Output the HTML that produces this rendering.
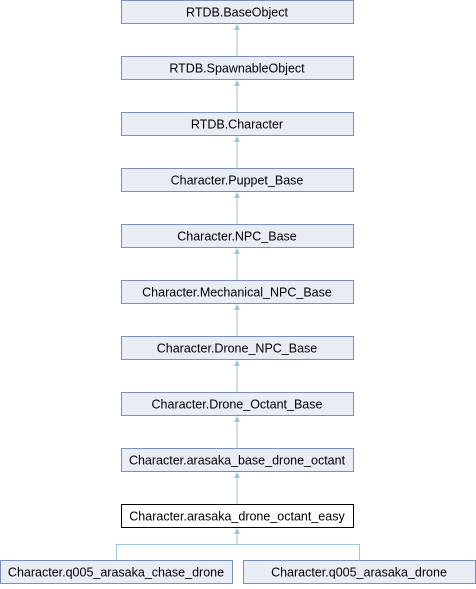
<!DOCTYPE html>
<html><head><meta charset="utf-8"><style>
body{margin:0;background:#fff;width:476px;height:584px;overflow:hidden}
svg text{font-family:"Liberation Sans",sans-serif;font-size:12.5px;fill:#000}
</style></head><body>
<svg width="476" height="584" xmlns="http://www.w3.org/2000/svg">
<g stroke="#9cc6e0" fill="none">
<line x1="237" y1="29" x2="237" y2="56"/>
<line x1="237" y1="85" x2="237" y2="112"/>
<line x1="237" y1="141" x2="237" y2="168"/>
<line x1="237" y1="197" x2="237" y2="224"/>
<line x1="237" y1="253" x2="237" y2="280"/>
<line x1="237" y1="309" x2="237" y2="336"/>
<line x1="237" y1="365" x2="237" y2="392"/>
<line x1="237" y1="421" x2="237" y2="448"/>
<line x1="237" y1="477" x2="237" y2="504"/>
<line x1="237" y1="533" x2="237" y2="544.5"/>
<polyline points="116.5,560 116.5,544.5 359.5,544.5 359.5,560"/>
</g>
<g fill="#9cc6e0">
<polygon points="237,24 234,30 240,30"/>
<polygon points="237,80 234,86 240,86"/>
<polygon points="237,136 234,142 240,142"/>
<polygon points="237,192 234,198 240,198"/>
<polygon points="237,248 234,254 240,254"/>
<polygon points="237,304 234,310 240,310"/>
<polygon points="237,360 234,366 240,366"/>
<polygon points="237,416 234,422 240,422"/>
<polygon points="237,472 234,478 240,478"/>
<polygon points="237,528 234,534 240,534"/>
</g>
<g fill="#e8ecf5" stroke="#7b8fbd">
<rect x="121.5" y="0.5" width="232" height="23"/>
<rect x="121.5" y="56.5" width="232" height="23"/>
<rect x="121.5" y="112.5" width="232" height="23"/>
<rect x="121.5" y="168.5" width="232" height="23"/>
<rect x="121.5" y="224.5" width="232" height="23"/>
<rect x="121.5" y="280.5" width="232" height="23"/>
<rect x="121.5" y="336.5" width="232" height="23"/>
<rect x="121.5" y="392.5" width="232" height="23"/>
<rect x="121.5" y="448.5" width="232" height="23"/>
<rect x="0.5" y="560.5" width="232" height="23"/>
<rect x="243.5" y="560.5" width="232" height="23"/>
</g>
<rect x="121.5" y="504.5" width="232" height="23" fill="#fff" stroke="#000"/>
<g text-anchor="middle">
<text x="237" y="16.5">RTDB.BaseObject</text>
<text x="237" y="72.5">RTDB.SpawnableObject</text>
<text x="237" y="128.5">RTDB.Character</text>
<text x="237" y="184.5">Character.Puppet_Base</text>
<text x="237" y="240.5">Character.NPC_Base</text>
<text x="237" y="296.5">Character.Mechanical_NPC_Base</text>
<text x="237" y="352.5">Character.Drone_NPC_Base</text>
<text x="237" y="408.5">Character.Drone_Octant_Base</text>
<text x="237" y="464.5">Character.arasaka_base_drone_octant</text>
<text x="237" y="520.5">Character.arasaka_drone_octant_easy</text>
<text x="116" y="576.5">Character.q005_arasaka_chase_drone</text>
<text x="359" y="576.5">Character.q005_arasaka_drone</text>
</g>
</svg>
</body></html>
